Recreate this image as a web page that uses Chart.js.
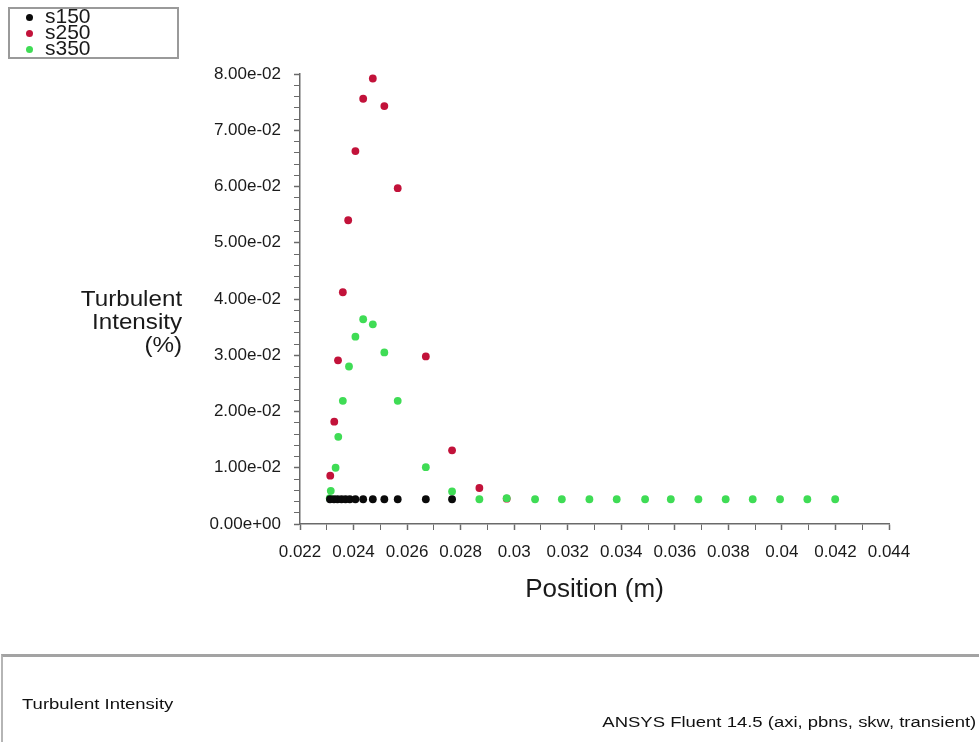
<!DOCTYPE html>
<html>
<head>
<meta charset="utf-8">
<title>Turbulent Intensity</title>
<script src="https://cdn.jsdelivr.net/npm/chart.js@4.4.1/dist/chart.umd.min.js"></script>
<style>
  body { margin: 0; background: #fff; font-family: "Liberation Sans", Arial, sans-serif; }
  #wrap { position: relative; width: 979px; height: 742px; overflow: hidden; background: #fff; }
  #chart { position: absolute; left: 0; top: 0; }
  #legend {
    position: absolute; left: 8px; top: 7px; width: 167px; height: 48px;
    border: 2px solid #9a9a9a; background: #fff;
  }
  .item { position: absolute; left: 0; height: 16px; width: 100px; }
  .item .dot { position: absolute; left: 16px; top: 5px; width: 7px; height: 7px; border-radius: 50%; }
  .item .lbl { position: absolute; left: 35px; top: -4px; font-size: 21px; line-height: 21px; color: #1a1a1a; }
  #ytitle {
    position: absolute; right: 797px; top: 287px; text-align: right;
    font-size: 22px; line-height: 23px; color: #1a1a1a;
    transform: scaleX(1.1); transform-origin: right center;
  }
  #footer {
    position: absolute; left: 1px; top: 654px; width: 1000px; height: 120px;
    border-top: 3px solid #a3a3a3; border-left: 2px solid #b5b5b5;
  }
  #footLeft {
    position: absolute; left: 19px; top: 39px; font-size: 14px; color: #111;
    transform: scaleX(1.32); transform-origin: left center; white-space: nowrap;
  }
  #footRight {
    position: absolute; right: 27px; top: 57px; font-size: 14px; color: #111;
    transform: scaleX(1.32); transform-origin: right center; white-space: nowrap;
  }
</style>
</head>
<body>
<div id="wrap">
  <canvas id="chart" width="979" height="742"></canvas>
  <div id="legend"></div>
  <div id="ytitle">Turbulent<br>Intensity<br>(%)</div>
  <div id="footer">
    <div id="footLeft">Turbulent Intensity</div>
    <div id="footRight">ANSYS Fluent 14.5 (axi, pbns, skw, transient)</div>
  </div>
</div>
<script>
// ─── DATA ──────────────────────────────────────────────
const seriesNames = ['s150', 's250', 's350'];

const s150X = [0.02312, 0.02327, 0.02340, 0.02355, 0.02370, 0.02386, 0.02407,
  0.02436, 0.02472, 0.02515, 0.02565, 0.02670, 0.02768];
const s150Y = [0.0044, 0.0044, 0.0044, 0.0044, 0.0044, 0.0044, 0.0044,
  0.0044, 0.0044, 0.0044, 0.0044, 0.0044, 0.0044];

const s250X = [0.02313, 0.02328, 0.02342, 0.02360, 0.02380, 0.02407, 0.02436,
  0.02472, 0.02515, 0.02565, 0.02670, 0.02768, 0.02870, 0.02972];
const s250Y = [0.0086, 0.0182, 0.0291, 0.0412, 0.0540, 0.0663, 0.0756,
  0.0792, 0.0743, 0.0597, 0.0298, 0.0131, 0.0064, 0.0045];

const s350X = [0.02311, 0.02315, 0.02333, 0.02343, 0.02360, 0.02383, 0.02407,
  0.02436, 0.02472, 0.02515, 0.02565, 0.02670, 0.02768, 0.02870, 0.02972,
  0.03078, 0.03178, 0.03281, 0.03383, 0.03489, 0.03585, 0.03688, 0.03790,
  0.03891, 0.03993, 0.04095, 0.04199];
const s350Y = [0.0046, 0.0059, 0.0100, 0.0155, 0.0219, 0.0280, 0.0333,
  0.0364, 0.0355, 0.0305, 0.0219, 0.0101, 0.0058, 0.0044, 0.0046,
  0.0044, 0.0044, 0.0044, 0.0044, 0.0044, 0.0044, 0.0044, 0.0044,
  0.0044, 0.0044, 0.0044, 0.0044];

// axis ranges
const xMin = 0.022, xMax = 0.044, xStep = 0.001;
const yMin = 0, yMax = 0.08, yStep = 0.002;

const colors = ['#0a0a0a', '#c2123a', '#3fdc55'];

// Build {x, y} points
const toPoints = (xs, ys) => xs.map((x, i) => ({ x, y: ys[i] }));

// Format 0.08 -> "8.00e-02"
const sci = (v) => v.toExponential(2).replace(/e([+-])(\d)$/, 'e$10$2');

const datasets = [
  { label: seriesNames[0], data: toPoints(s150X, s150Y), order: 0 },
  { label: seriesNames[1], data: toPoints(s250X, s250Y), order: 2 },
  { label: seriesNames[2], data: toPoints(s350X, s350Y), order: 1 }
].map((d, i) => ({
  ...d,
  backgroundColor: colors[i],
  borderWidth: 0,
  pointRadius: 3.9,
  pointHoverRadius: 3.9
}));

const chart = new Chart(document.getElementById('chart'), {
  type: 'scatter',
  data: { datasets },
  options: {
    responsive: false,
    animation: false,
    events: [],
    layout: { autoPadding: false, padding: { left: 0, top: 74, right: 90, bottom: 0 } },
    plugins: { legend: { display: false }, tooltip: { enabled: false } },
    scales: {
      x: {
        type: 'linear',
        min: xMin,
        max: xMax,
        afterFit: (s) => { s.height = 218; },
        border: { display: true, color: '#6a6a6a', width: 1.5 },
        grid: {
          drawOnChartArea: false,
          tickLength: 6,
          tickColor: '#6a6a6a',
          tickWidth: (c) => (c.index % 2 === 0 ? 1.5 : 1)
        },
        ticks: {
          stepSize: xStep,
          maxTicksLimit: 30,
          autoSkip: false,
          maxRotation: 0,
          padding: 12,
          color: '#1a1a1a',
          font: { family: 'Liberation Sans, Arial, sans-serif', size: 17 },
          callback: (v, i) => (i % 2 === 0 ? String(Number(v.toFixed(3))) : '')
        },
        title: {
          display: true,
          text: 'Position (m)',
          color: '#1a1a1a',
          font: { family: 'Liberation Sans, Arial, sans-serif', size: 26 },
          padding: { top: 0, bottom: 137 }
        }
      },
      y: {
        type: 'linear',
        min: yMin,
        max: yMax,
        afterFit: (s) => { s.width = 300; },
        border: { display: true, color: '#6a6a6a', width: 1.5 },
        grid: {
          drawOnChartArea: false,
          tickLength: 6,
          tickColor: '#6a6a6a',
          tickWidth: (c) => (c.index % 5 === 0 ? 1.5 : 1)
        },
        ticks: {
          stepSize: yStep,
          maxTicksLimit: 50,
          autoSkip: false,
          padding: 13,
          color: '#1a1a1a',
          font: { family: 'Liberation Sans, Arial, sans-serif', size: 17 },
          callback: (v, i) => (i % 5 === 0 ? sci(v) : '')
        }
      }
    }
  }
});

// ─── LEGEND (from the datasets) ────────────────────────
const legend = document.getElementById('legend');
chart.data.datasets.forEach((d, i) => {
  const item = document.createElement('div');
  item.className = 'item';
  item.style.top = (i * 16) + 'px';
  item.innerHTML = `<span class="dot" style="background:${d.backgroundColor}"></span>` +
    `<span class="lbl">${d.label}</span>`;
  legend.appendChild(item);
});
</script>
</body>
</html>
